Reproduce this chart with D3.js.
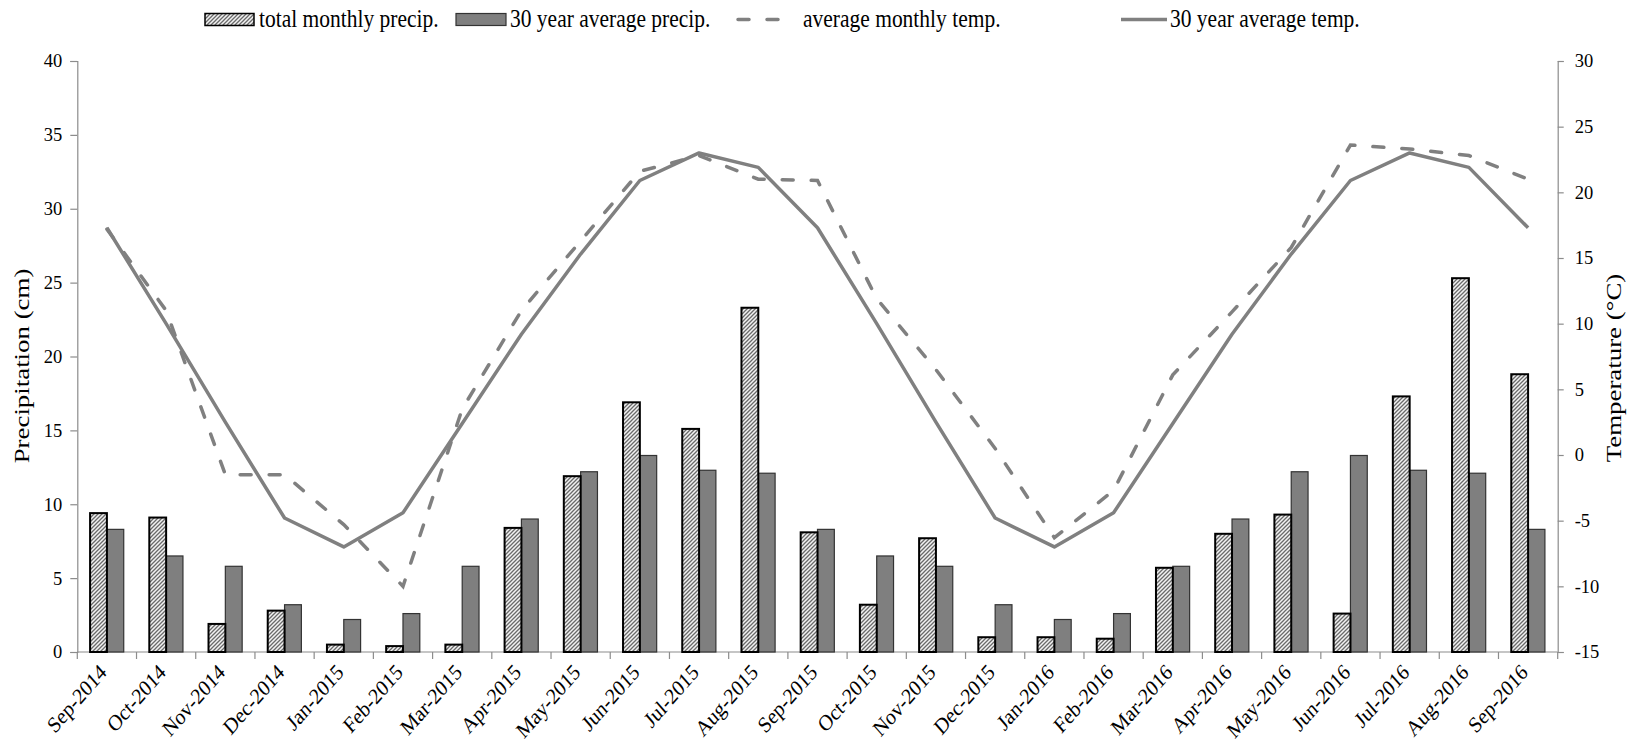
<!DOCTYPE html>
<html>
<head>
<meta charset="utf-8">
<script src="https://cdn.jsdelivr.net/npm/d3@7/dist/d3.min.js"></script>
<style>
  html, body { margin: 0; padding: 0; background: #fff; }
  svg { display: block; }
  text { font-family: "Liberation Serif", "Times New Roman", Times, serif; fill: #000; }
</style>
</head>
<body>
<svg id="chart" width="1641" height="742"></svg>
<script>
// ---- data ----
const months = ["Sep-2014","Oct-2014","Nov-2014","Dec-2014","Jan-2015","Feb-2015","Mar-2015","Apr-2015",
  "May-2015","Jun-2015","Jul-2015","Aug-2015","Sep-2015","Oct-2015","Nov-2015","Dec-2015","Jan-2016",
  "Feb-2016","Mar-2016","Apr-2016","May-2016","Jun-2016","Jul-2016","Aug-2016","Sep-2016"];
const totalPrecip = [9.4, 9.1, 1.9, 2.8, 0.5, 0.4, 0.5, 8.4, 11.9, 16.9, 15.1, 23.3, 8.1, 3.2, 7.7,
  1.0, 1.0, 0.9, 5.7, 8.0, 9.3, 2.6, 17.3, 25.3, 18.8];
const avgPrecip = [8.3, 6.5, 5.8, 3.2, 2.2, 2.6, 5.8, 9.0, 12.2, 13.3, 12.3, 12.1, 8.3, 6.5, 5.8,
  3.2, 2.2, 2.6, 5.8, 9.0, 12.2, 13.3, 12.3, 12.1, 8.3];
const monthlyTemp = [17.2, 11.0, -1.5, -1.5, -5.3, -10.0, 3.5, 11.0, 16.3, 21.6, 22.8, 21.0, 20.9,
  11.9, 6.5, 0.5, -6.3, -2.7, 6.1, 10.9, 15.8, 23.6, 23.3, 22.8, 21.0];
const avgTemp = [17.3, 10.0, 2.5, -4.8, -7.0, -4.4, 2.4, 9.2, 15.3, 20.9, 23.0, 21.9, 17.3,
  10.0, 2.5, -4.8, -7.0, -4.4, 2.4, 9.2, 15.3, 20.9, 23.0, 21.9, 17.3];
const precipTicks = [0, 5, 10, 15, 20, 25, 30, 35, 40];
const tempTicks = [-15, -10, -5, 0, 5, 10, 15, 20, 25, 30];
const seriesNames = ["total monthly precip.", "30 year average precip.", "average monthly temp.", "30 year average temp."];

// ---- layout ----
const L = 77.3, R = 1557.7, T = 61, B = 652;
const svg = d3.select("#chart");
const axisColor = "#8c8c8c";
const lineColor = "#808080";
const barGray = "#7f7f7f";
const FONT = "Liberation Serif";

const x = d3.scaleBand().domain(months).range([L, R]).paddingInner(0).paddingOuter(0);
const sub = d3.scaleBand().domain(["total", "avg"]).range([0, x.bandwidth()]).paddingInner(0).paddingOuter(0.76);
const yP = d3.scaleLinear().domain([0, 40]).range([B, T]);
const yT = d3.scaleLinear().domain([-15, 30]).range([B, T]);

// hatch pattern
const defs = svg.append("defs");
const pat = defs.append("pattern").attr("id", "hatch").attr("patternUnits", "userSpaceOnUse")
  .attr("width", 4).attr("height", 4);
pat.append("rect").attr("width", 4).attr("height", 4).attr("fill", "#f2f2f2");
pat.append("path").attr("d", "M-1,1 L1,-1 M0,4 L4,0 M3,5 L5,3")
  .attr("stroke", "#6a6a6a").attr("stroke-width", 1.3);

// axes
const gL = svg.append("g").attr("transform", `translate(${L},0)`)
  .call(d3.axisLeft(yP).tickValues(precipTicks).tickSize(7).tickPadding(8).tickFormat(d3.format("d")));
const gR = svg.append("g").attr("transform", `translate(${R},0)`)
  .call(d3.axisRight(yT).tickValues(tempTicks).tickSize(6).tickPadding(11).tickFormat(d3.format("d")));
[gL, gR].forEach(g => {
  g.attr("font-family", FONT);
  g.select(".domain").attr("stroke", axisColor).attr("stroke-width", 1.2);
  g.selectAll(".tick line").attr("stroke", axisColor).attr("stroke-width", 1.2);
  g.selectAll(".tick text").attr("font-size", 18.5).attr("font-family", FONT).attr("fill", "#000");
});
gR.selectAll(".tick text").text(d => d < 0 ? "-" + Math.abs(d) : d);

// bottom axis line and boundary ticks
const gB = svg.append("g");
gB.append("line").attr("x1", L).attr("x2", R).attr("y1", B).attr("y2", B)
  .attr("stroke", axisColor).attr("stroke-width", 1.2);
const bounds = months.map(m => x(m)).concat([x.range()[1]]);
gB.selectAll("line.bt").data(bounds).enter().append("line").attr("class", "bt")
  .attr("x1", d => d).attr("x2", d => d).attr("y1", B).attr("y2", B + 7)
  .attr("stroke", axisColor).attr("stroke-width", 1.2);
gB.selectAll("text.cat").data(months).enter().append("text").attr("class", "cat")
  .attr("transform", m => `translate(${x(m) + x.bandwidth() / 2 - 4},${B + 16}) scale(1,1.15) rotate(-45)`)
  .attr("text-anchor", "end").attr("dy", "0.35em").attr("font-size", 19.5)
  .text(m => m);

// bars
const gBars = svg.append("g");
gBars.selectAll("rect.gray").data(months).enter().append("rect").attr("class", "gray")
  .attr("x", (m) => x(m) + sub("avg"))
  .attr("width", sub.bandwidth())
  .attr("y", (m, i) => yP(avgPrecip[i]))
  .attr("height", (m, i) => B - yP(avgPrecip[i]))
  .attr("fill", barGray).attr("stroke", "#333").attr("stroke-width", 1.2);
gBars.selectAll("rect.hat").data(months).enter().append("rect").attr("class", "hat")
  .attr("x", (m) => x(m) + sub("total"))
  .attr("width", sub.bandwidth())
  .attr("y", (m, i) => yP(totalPrecip[i]))
  .attr("height", (m, i) => B - yP(totalPrecip[i]))
  .attr("fill", "url(#hatch)").attr("stroke", "#000").attr("stroke-width", 2);

// lines
const cx = m => x(m) + x.bandwidth() / 2;
const line = d3.line().x(d => cx(d[0])).y(d => yT(d[1]));
svg.append("path").datum(months.map((m, i) => [m, avgTemp[i]]))
  .attr("d", line).attr("fill", "none").attr("stroke", lineColor).attr("stroke-width", 3.5)
  .attr("stroke-linejoin", "round");
svg.append("path").datum(months.map((m, i) => [m, monthlyTemp[i]]))
  .attr("d", line).attr("fill", "none").attr("stroke", lineColor).attr("stroke-width", 3.5)
  .attr("stroke-dasharray", "11,18").attr("stroke-linecap", "round");

// axis titles
svg.append("text").attr("transform", `translate(22,366) rotate(-90) scale(1.28,1)`)
  .attr("text-anchor", "middle").attr("dy", "0.35em").attr("font-size", 21).text("Precipitation (cm)");
svg.append("text").attr("transform", `translate(1614,368) rotate(-90) scale(1.28,1)`)
  .attr("text-anchor", "middle").attr("dy", "0.35em").attr("font-size", 21).text("Temperature (\u00B0C)");

// legend
const lg = svg.append("g");
const ly = 19.5;
lg.append("rect").attr("x", 205).attr("y", ly - 6).attr("width", 49).attr("height", 12)
  .attr("fill", "url(#hatch)").attr("stroke", "#000").attr("stroke-width", 1.5);
lg.append("rect").attr("x", 456).attr("y", ly - 6).attr("width", 50).attr("height", 12)
  .attr("fill", barGray).attr("stroke", "#333").attr("stroke-width", 1.2);
lg.append("line").attr("x1", 738).attr("x2", 779).attr("y1", ly).attr("y2", ly)
  .attr("stroke", lineColor).attr("stroke-width", 3.5).attr("stroke-dasharray", "11,18").attr("stroke-linecap", "round");
lg.append("line").attr("x1", 1121).attr("x2", 1167).attr("y1", ly).attr("y2", ly)
  .attr("stroke", lineColor).attr("stroke-width", 3.5);
const lx = [259, 510, 803, 1170];
lg.selectAll("text").data(seriesNames).enter().append("text")
  .attr("transform", (d, i) => `translate(${lx[i]},${ly + 7}) scale(1,1.2)`)
  .attr("font-size", 21.5)
  .text(d => d);
</script>
</body>
</html>
